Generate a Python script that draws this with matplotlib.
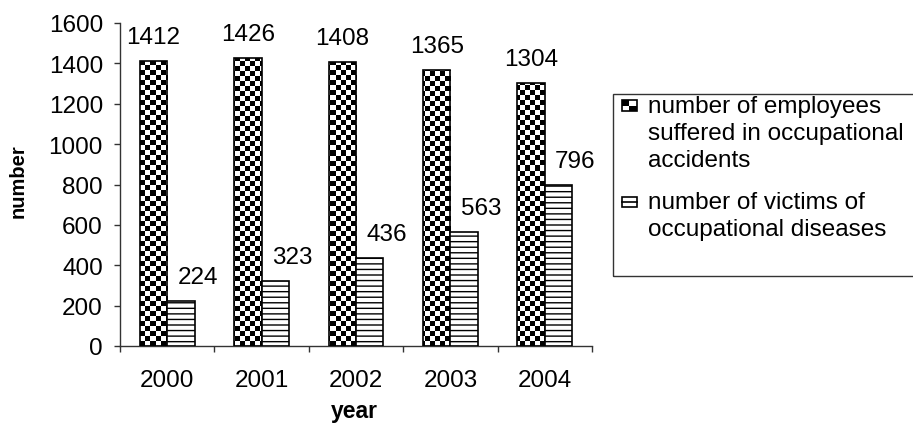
import numpy as np
import matplotlib
matplotlib.use("Agg")
import matplotlib.pyplot as plt
from matplotlib.patches import Rectangle
from matplotlib.lines import Line2D
from matplotlib.legend_handler import HandlerBase

# ---- data ----
years = ["2000", "2001", "2002", "2003", "2004"]
accidents = [1412, 1426, 1408, 1365, 1304]
diseases = [224, 323, 436, 563, 796]
series_labels = [
    "number of employees\nsuffered in occupational\naccidents",
    "number of victims of\noccupational diseases",
]
y_ticks = [0, 200, 400, 600, 800, 1000, 1200, 1400, 1600]

plt.rcParams["font.family"] = ["Liberation Sans", "DejaVu Sans"]
plt.rcParams["hatch.linewidth"] = 1.0
plt.rcParams["hatch.color"] = "black"

W, H, DPI = 913, 427, 100
FS = 17.5
fig = plt.figure(figsize=(W / DPI, H / DPI), dpi=DPI)
AX_L, AX_B, AX_W, AX_H = 120, 80, 472, 323  # pixels
ax = fig.add_axes([AX_L / W, AX_B / H, AX_W / W, AX_H / H])

x = np.arange(len(years))
bw = 0.29
b1 = ax.bar(x - bw / 2, accidents, bw, facecolor="none", edgecolor="black",
            linewidth=1.2, zorder=3)
b2 = ax.bar(x + bw / 2, diseases, bw, facecolor="white", edgecolor="black",
            hatch="---", linewidth=1.2, zorder=3)

# checkerboard fill for the accident bars: black/white grid clipped to each bar
cell = 5
nx, ny = AX_W // cell + 1, AX_H // cell + 1
ii, jj = np.indices((ny, nx))
checker = ((ii + jj) % 2).astype(float)
for rect in b1:
    im = ax.imshow(checker, cmap="gray", vmin=0, vmax=1, interpolation="nearest",
                   extent=(0, nx * cell / AX_W, 0, ny * cell / AX_H),
                   transform=ax.transAxes, aspect="auto", origin="lower", zorder=2)
    im.set_clip_path(rect)

# value labels
for xi, v in zip(x, accidents):
    ax.annotate(str(v), (xi - bw / 2, v), xytext=(0, 13), textcoords="offset points",
                ha="center", va="baseline", fontsize=FS)
for xi, v in zip(x, diseases):
    ax.annotate(str(v), (xi + bw / 2, v), xytext=(12, 13), textcoords="offset points",
                ha="center", va="baseline", fontsize=FS)

ax.set_xlim(-0.5, len(years) - 0.5)
ax.set_ylim(0, 1600)

# axes styling
for s in ("top", "right"):
    ax.spines[s].set_visible(False)
for s in ("left", "bottom"):
    ax.spines[s].set_color("#333333")
    ax.spines[s].set_linewidth(1.0)

ax.set_yticks(y_ticks)
ax.tick_params(axis="y", length=4.3, width=1, color="#333333", pad=8.0, labelsize=FS)
ax.set_xticks(np.arange(-0.5, len(years), 1.0))
ax.set_xticks(x, minor=True)
ax.set_xticklabels(years, minor=True)
ax.tick_params(axis="x", which="major", length=4.3, width=1, color="#333333",
               labelbottom=False)
ax.tick_params(axis="x", which="minor", length=0, pad=16.5, labelsize=FS)

ax.set_xlabel("year", fontsize=16.5, fontweight="bold")
ax.xaxis.set_label_coords(0.496, -0.165)
ax.set_ylabel("number", fontsize=14.5, fontweight="bold")
ax.yaxis.set_label_coords(-0.195, 0.514)


# legend keys drawn next to the first line of each entry
class CheckerKey(HandlerBase):
    def __init__(self, shift):
        super().__init__()
        self.shift = shift

    def create_artists(self, legend, orig_handle, xdescent, ydescent, width,
                       height, fontsize, trans):
        h = 7.5
        x0 = -xdescent
        y0 = -ydescent + (height - h) / 2 + self.shift
        base = Rectangle((x0, y0), width, h, facecolor="white", edgecolor="black",
                         linewidth=1.2, transform=trans)
        q1 = Rectangle((x0, y0 + h / 2), width / 2, h / 2, facecolor="black",
                       edgecolor="none", transform=trans)
        q2 = Rectangle((x0 + width / 2, y0), width / 2, h / 2, facecolor="black",
                       edgecolor="none", transform=trans)
        return [base, q1, q2]


class StripeKey(HandlerBase):
    def __init__(self, shift):
        super().__init__()
        self.shift = shift

    def create_artists(self, legend, orig_handle, xdescent, ydescent, width,
                       height, fontsize, trans):
        h = 7.5
        x0 = -xdescent
        y0 = -ydescent + (height - h) / 2 + self.shift
        base = Rectangle((x0, y0), width, h, facecolor="white", edgecolor="black",
                         linewidth=1.2, transform=trans)
        mid = Line2D([x0, x0 + width], [y0 + h / 2, y0 + h / 2], color="black",
                     linewidth=1.2, transform=trans)
        return [base, mid]


key1, key2 = Rectangle((0, 0), 1, 1), Rectangle((0, 0), 1, 1)
step = 19.6  # one text line, in points
leg = ax.legend([key1, key2], series_labels,
                handler_map={key1: CheckerKey(step), key2: StripeKey(step / 2)},
                loc="upper left", bbox_to_anchor=(622 / W, 1 - 96 / H),
                bbox_transform=fig.transFigure, frameon=False, fontsize=FS,
                borderpad=0, borderaxespad=0, handlelength=0.6,
                handletextpad=0.45, labelspacing=0.85)
for t in leg.get_texts():
    t.set_linespacing(1.28)

# legend border
fig.add_artist(Rectangle((613 / W, 1 - 277 / H), 320 / W, 182 / H,
                         transform=fig.transFigure, fill=False,
                         edgecolor="#333333", linewidth=1.0))

fig.savefig("out.png", dpi=DPI)
